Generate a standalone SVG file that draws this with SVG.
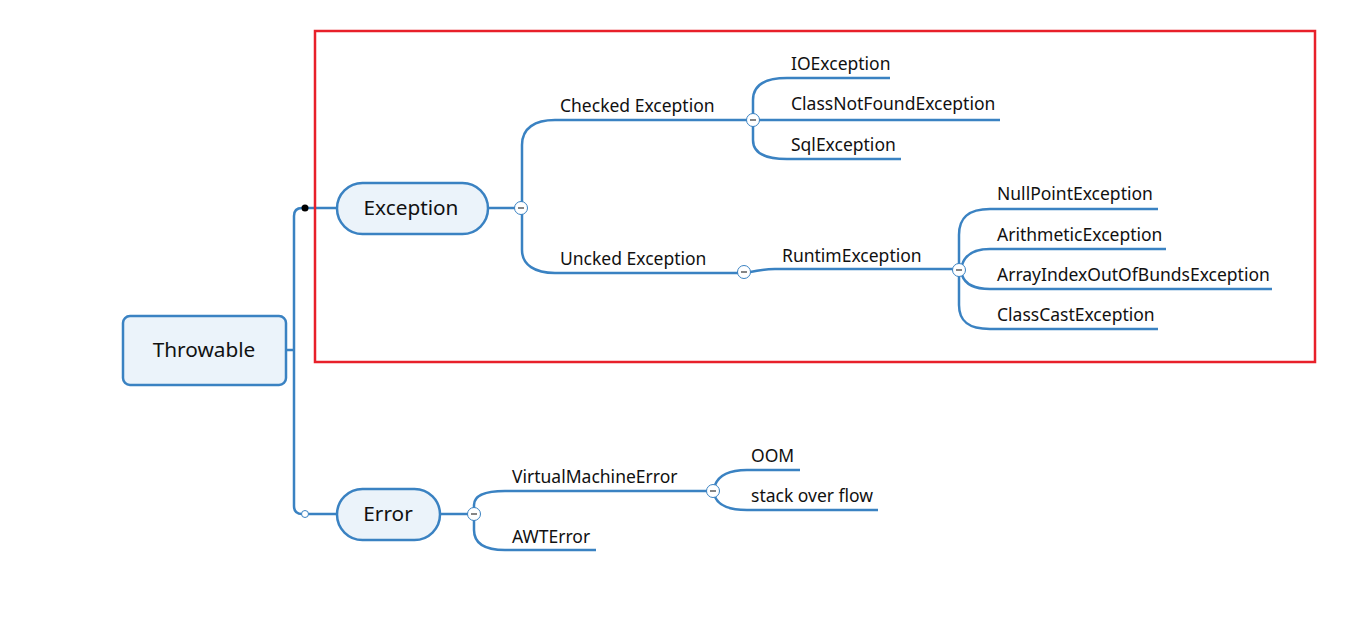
<svg xmlns="http://www.w3.org/2000/svg" width="1369" height="634" viewBox="0 0 1369 634">
<style>
.c{fill:none;stroke:#3a82c2;stroke-width:2.5;stroke-linecap:butt}
.node{fill:#ebf3fa;stroke:#3a82c2;stroke-width:2.5}
.nt{font-family:"Noto Sans","Open Sans",sans-serif;font-size:20.8px;fill:#111;text-anchor:middle}
.lt{font-family:"Noto Sans","Open Sans",sans-serif;font-size:17.5px;fill:#111}
.tog{fill:#fff;stroke:#3a82c2;stroke-width:1}
.minus{stroke:#222;stroke-width:1.1}
</style>
<rect width="1369" height="634" fill="#fff"/>
<g id="connectors">
<path class="c" d="M286,350 H294"/>
<path class="c" d="M337,208 H302 Q294,208 294,216 V506 Q294,514 302,514 H337"/>
<path class="c" d="M488,208 H515"/>
<path class="c" d="M522,202 V145 C522,128 535,120 555,120 H747"/>
<path class="c" d="M522,214 V250 C522,265 535,273 555,273 H738"/>
<path class="c" d="M753,114 V100 C753,85 765,78 787,78 H890"/>
<path class="c" d="M759,120 H1000"/>
<path class="c" d="M753,126 V140 C753,153 765,159 787,159 H901"/>
<path class="c" d="M750,272 C758,271 762,269 775,269 H953"/>
<path class="c" d="M959,264 V235 C959,218 968,209 990,209 H1158"/>
<path class="c" d="M962,265 C965,255 974,249 990,249 H1166"/>
<path class="c" d="M962,275 C965,284 974,289 990,289 H1272"/>
<path class="c" d="M959,276 V305 C959,321 968,329 990,329 H1158"/>
<path class="c" d="M440,514 H468"/>
<path class="c" d="M474,508 V505 C474,496 484,491 505,491 H707"/>
<path class="c" d="M474,520 V530 C474,543 484,550 505,550 H596"/>
<path class="c" d="M715,485 C719,475 730,470 747,470 H800"/>
<path class="c" d="M715,497 C719,506 730,510 747,510 H878"/>
<circle cx="305" cy="208" r="3.5" fill="#000"/>
<circle cx="305" cy="514" r="3.5" fill="#fff" stroke="#3a82c2" stroke-width="1"/>
</g>
<g id="toggles">
<circle class="tog" cx="521" cy="208" r="6.5"/><line class="minus" x1="518" y1="208" x2="524" y2="208"/>
<circle class="tog" cx="753" cy="120" r="6.5"/><line class="minus" x1="750" y1="120" x2="756" y2="120"/>
<circle class="tog" cx="744" cy="272" r="6.5"/><line class="minus" x1="741" y1="272" x2="747" y2="272"/>
<circle class="tog" cx="959" cy="270" r="6.5"/><line class="minus" x1="956" y1="270" x2="962" y2="270"/>
<circle class="tog" cx="474" cy="514" r="6.5"/><line class="minus" x1="471" y1="514" x2="477" y2="514"/>
<circle class="tog" cx="713" cy="491" r="6.5"/><line class="minus" x1="710" y1="491" x2="716" y2="491"/>
</g>
<g id="throwable"><rect class="node" x="123" y="316" width="163" height="69" rx="7"/><text class="nt" x="204" y="357">Throwable</text></g>
<g id="exception"><rect class="node" x="337" y="183" width="151" height="51" rx="25.5"/><text class="nt" x="411" y="215">Exception</text></g>
<g id="error"><rect class="node" x="337" y="489" width="103" height="51" rx="25.5"/><text class="nt" x="388" y="521">Error</text></g>
<g id="checked"><text class="lt" x="560" y="112">Checked Exception</text></g>
<g id="uncked"><text class="lt" x="560" y="265">Uncked Exception</text></g>
<g id="ioexception"><text class="lt" x="791" y="70">IOException</text></g>
<g id="classnotfound"><text class="lt" x="791" y="110">ClassNotFoundException</text></g>
<g id="sqlexception"><text class="lt" x="791" y="151">SqlException</text></g>
<g id="runtim"><text class="lt" x="782" y="262">RuntimException</text></g>
<g id="nullpoint"><text class="lt" x="997" y="200">NullPointException</text></g>
<g id="arithmetic"><text class="lt" x="997" y="241">ArithmeticException</text></g>
<g id="arrayindex"><text class="lt" x="997" y="281">ArrayIndexOutOfBundsException</text></g>
<g id="classcast"><text class="lt" x="997" y="321">ClassCastException</text></g>
<g id="vme"><text class="lt" x="512" y="483">VirtualMachineError</text></g>
<g id="awterror"><text class="lt" x="512" y="543">AWTError</text></g>
<g id="oom"><text class="lt" x="751" y="462">OOM</text></g>
<g id="stackoverflow"><text class="lt" x="751" y="502">stack over flow</text></g>
<rect id="highlight" x="315" y="31" width="1000" height="331" fill="none" stroke="#e8202a" stroke-width="2.5"/>
</svg>
